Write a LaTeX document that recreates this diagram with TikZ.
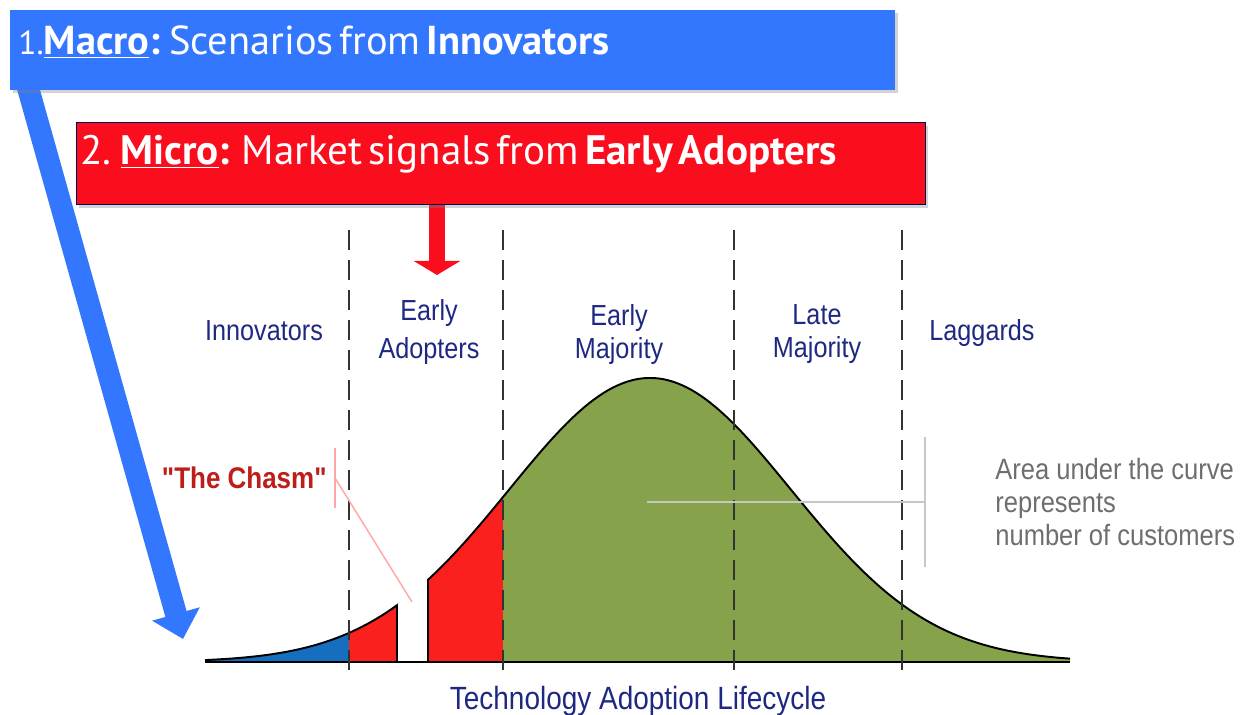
\documentclass[tikz,border=0pt]{standalone}
\usepackage{fontspec}
\setmainfont{Liberation Sans}
\newfontfamily\boxfont{PT Sans}
\newfontfamily\labelfont{Liberation Sans}[FakeStretch=0.87]
\usetikzlibrary{arrows.meta,shadows,backgrounds}

\definecolor{macroblue}{RGB}{51,119,255}
\definecolor{microred}{RGB}{250,14,30}
\definecolor{innoblue}{RGB}{22,110,190}
\definecolor{chasmred}{RGB}{250,32,30}
\definecolor{majgreen}{RGB}{134,162,74}
\definecolor{stagenavy}{RGB}{30,40,130}
\definecolor{chasmtext}{RGB}{190,30,25}
\definecolor{notegray}{RGB}{110,110,110}

\begin{document}
\begin{tikzpicture}
	[
	x = {(0.020000cm, 0.000000cm)},
	y = {(0.000000cm, -0.020000cm)},
	declare function = {bell(\t) = 662 - 284*exp(-0.5*((\t - 650)/141)^2);},
	macrobox/.style = {fill = macroblue, text = white, anchor = north west, align = left,
		inner xsep = 0.16cm, inner ysep = 0pt,
		drop shadow = {shadow xshift = 0.05cm, shadow yshift = -0.06cm, opacity = 0.35}},
	microbox/.style = {macrobox, fill = microred, draw = blue!35!black, line width = 0.6pt,
		inner xsep = 0.08cm},
	macroarrow/.style = {draw = macroblue, line width = 0.44cm,
		-{Triangle[width = 0.96cm, length = 0.52cm]}},
	microarrow/.style = {draw = microred, line width = 0.32cm,
		-{Triangle[width = 0.92cm, length = 0.28cm]}},
	stageline/.style = {color = black!80, line width = 1.1pt, dash pattern = on 0.40cm off 0.20cm},
	curveedge/.style = {color = black, line width = 1.1pt},
	innofacet/.style = {fill = innoblue},
	chasmfacet/.style = {fill = chasmred},
	majorityfacet/.style = {fill = majgreen},
	stagelabel/.style = {text = stagenavy, inner sep = 0pt, align = center,
		font = \labelfont\fontsize{16.5}{19}\selectfont},
	chasmlabel/.style = {text = chasmtext, inner sep = 0pt,
		font = \labelfont\bfseries\fontsize{17}{20}\selectfont},
	noteline/.style = {color = black!22, line width = 0.9pt},
	chasmline/.style = {color = red!35, line width = 0.8pt},
	notelabel/.style = {text = notegray, inner sep = 0pt, align = left, anchor = north west,
		font = \labelfont\fontsize{16.7}{18.8}\selectfont}]
	
	\useasboundingbox (0, 0) rectangle (1240, 715);
	
	%% Drawing the facets under the curve
	
	\fill[innofacet] (205, 662) -- plot[domain = 205:349, samples = 40] (\x, {bell(\x)}) -- (349, 662) -- cycle;
	\fill[chasmfacet] (349, 662) -- plot[domain = 349:397, samples = 15] (\x, {bell(\x)}) -- (397, 662) -- cycle;
	\fill[chasmfacet] (428, 662) -- plot[domain = 428:503, samples = 20] (\x, {bell(\x)}) -- (503, 662) -- cycle;
	\fill[majorityfacet] (503, 662) -- plot[domain = 503:1070, samples = 120] (\x, {bell(\x)}) -- (1070, 662) -- cycle;
	
	%% Drawing the curve and the axis
	
	\draw[curveedge] plot[domain = 205:397, samples = 50] (\x, {bell(\x)}) -- (397, 662);
	\draw[curveedge] (428, 662) -- plot[domain = 428:1070, samples = 140] (\x, {bell(\x)});
	\draw[curveedge] (205, 662) -- (1070, 662);
	
	% stage borders
	\foreach \c in {349, 503, 734, 902}
		\draw[stageline] (\c, 230) -- (\c, 676);
	
	%% Stage names
	
	\node[stagelabel, anchor = base] (innovators) at (264, 341) {Innovators};
	\node[stagelabel, anchor = north, font = \labelfont\fontsize{16.5}{21.5}\selectfont] (earlyadopters) at (429, 299) {Early\\Adopters};
	\node[stagelabel, anchor = north] (earlymajority) at (619, 304) {Early\\Majority};
	\node[stagelabel, anchor = north] (latemajority) at (817, 304) {Late\\Majority};
	\node[stagelabel, anchor = base] (laggards) at (982, 341) {Laggards};
	\node[stagelabel, anchor = base, font = \labelfont\fontsize{18.3}{20}\selectfont] (lifecycle) at (638, 709) {Technology Adoption Lifecycle};
	
	% the chasm
	\node[chasmlabel, anchor = east] (chasm) at (327, 478) {"The Chasm"};
	\draw[chasmline] ([xshift = 0.16cm]chasm.east) coordinate (chasmfoot) -- (412, 602);
	\draw[chasmline] ([yshift = 0.6cm]chasmfoot) -- ([yshift = -0.6cm]chasmfoot);
	
	% area note
	\node[notelabel] (areanote) at (995, 458) {Area under the curve\\represents\\number of customers};
	\coordinate (notebar) at (925, 502);
	\draw[noteline] (notebar |- 0, 437) -- (notebar |- 0, 567);
	\draw[noteline] (647, 502) -- (notebar);
	
	%% The two boxes on top
	
	\node[macrobox, text width = 17.38cm, text height = 0.88cm, text depth = 0.72cm] (macro) at (10, 10)
		{\boxfont\fontsize{23}{26}\selectfont{\fontsize{19}{22}\selectfont 1.}\underline{\textbf{Macro}}\textbf{:} Scenarios from \textbf{Innovators}};
	\node[microbox, text width = 16.82cm, text height = 0.84cm, text depth = 0.80cm] (micro) at (76, 122)
		{\boxfont\fontsize{23.4}{26}\selectfont 2. \underline{\textbf{Micro}}\textbf{:}\ \ Market signals from \textbf{Early Adopters}};
	
	\coordinate (macrotip) at (183, 639);
	\coordinate (signaltip) at (437, 275);
	\begin{scope}[on background layer]
		\draw[macroarrow] ([xshift = 0.32cm, yshift = 0.2cm]macro.south west) -- (macrotip);
		\draw[microarrow] (signaltip |- micro.south) -- (signaltip);
	\end{scope}
\end{tikzpicture}
\end{document}
